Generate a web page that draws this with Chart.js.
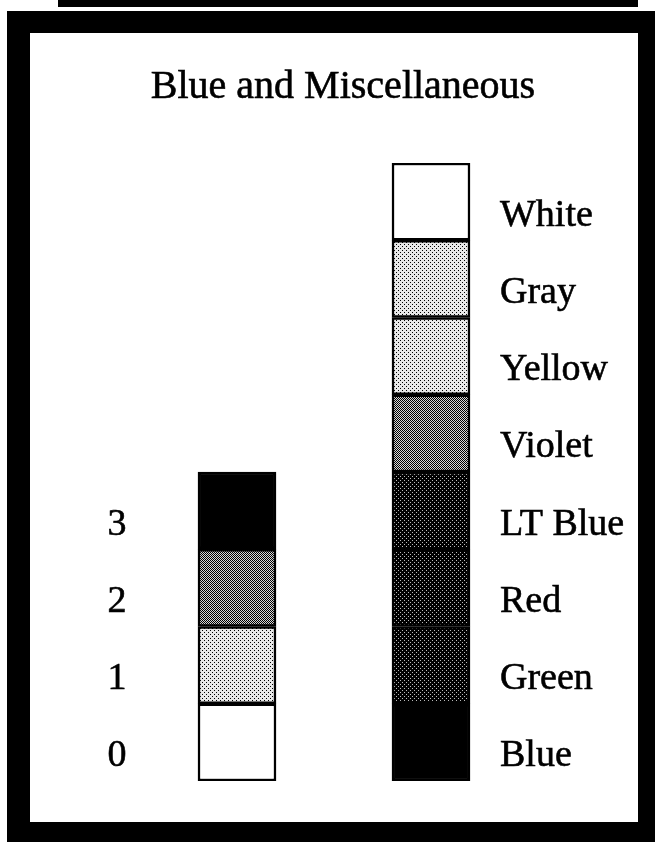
<!DOCTYPE html>
<html>
<head>
<meta charset="utf-8">
<script src="https://cdn.jsdelivr.net/npm/chart.js@4.4.0/dist/chart.umd.min.js"></script>
<style>
    html, body { margin: 0; padding: 0; background: #fff; }
    #wrap { width: 655px; height: 842px; }
</style>
</head>
<body>
<div id="wrap"><canvas id="grafico" width="655" height="842"></canvas></div>
<script>
/* -------------------- DADOS -------------------- */
const titulo = "Blue and Miscellaneous";

// coluna da esquerda (codigos), de baixo para cima
const codeLabels = ["0", "1", "2", "3"];
const codeValues = [1, 1, 1, 1];
const codeShades = ["white", "light", "medium", "black"];

// coluna da direita (cores), de baixo para cima
const colorLabels = ["Blue", "Green", "Red", "LT Blue", "Violet", "Yellow", "Gray", "White"];
const colorValues = [1, 1, 1, 1, 1, 1, 1, 1];
const colorShades = ["black", "dark", "dark", "dark", "medium", "light", "light", "white"];

const columns = ["codes", "colors"];

/* -------------------- RETICULA (halftone) -------------------- */
function halftone(kind) {
    if (kind === "white") return "#ffffff";
    if (kind === "black") return "#000000";
    const c = document.createElement("canvas");
    c.width = 4; c.height = 4;
    const g = c.getContext("2d");
    if (kind === "light") {
        g.fillStyle = "#e8e8e8"; g.fillRect(0, 0, 4, 4);
        g.fillStyle = "#000"; g.fillRect(0, 0, 1, 1); g.fillRect(2, 2, 1, 1);
    } else if (kind === "medium") {
        g.fillStyle = "#d8d8d8"; g.fillRect(0, 0, 4, 4);
        g.fillStyle = "#000";
        g.fillRect(0, 0, 1, 1); g.fillRect(2, 0, 1, 1); g.fillRect(1, 1, 1, 1); g.fillRect(3, 1, 1, 1);
        g.fillRect(0, 2, 1, 1); g.fillRect(2, 2, 1, 1); g.fillRect(1, 3, 1, 1); g.fillRect(3, 3, 1, 1);
    } else { // dark
        g.fillStyle = "#000"; g.fillRect(0, 0, 4, 4);
        g.fillStyle = "#bbb"; g.fillRect(0, 0, 1, 1); g.fillRect(2, 2, 1, 1);
    }
    return g.createPattern(c, "repeat");
}

/* -------------------- MOLDURA E TEXTOS -------------------- */
function texto(ctx, s, x, y) {
    ctx.fillText(s, x, y);
    ctx.strokeText(s, x, y); // engrossa um pouco, como no original escaneado
}

const moldura = {
    id: "moldura",
    beforeDraw(chart) {
        const ctx = chart.ctx;
        ctx.save();
        ctx.fillStyle = "#000";
        ctx.fillRect(58, 0, 580, 7);      // faixa de cima
        ctx.fillRect(7, 11, 648, 831);    // borda
        ctx.fillStyle = "#fff";
        ctx.fillRect(30, 33, 608, 789);   // area interna
        ctx.restore();
    },
    afterDraw(chart) {
        const ctx = chart.ctx;
        ctx.save();
        ctx.fillStyle = "#000";
        ctx.strokeStyle = "#000";
        ctx.lineWidth = 0.6;
        ctx.textBaseline = "alphabetic";

        ctx.font = '40px "Liberation Serif"';
        ctx.textAlign = "center";
        texto(ctx, titulo, 343, 98);

        ctx.font = '38px "Liberation Serif"';
        chart.data.datasets.forEach((ds, i) => {
            const meta = chart.getDatasetMeta(i);
            meta.data.forEach((bar, j) => {
                if (ds.data[j] == null) return;
                const yc = (bar.y + bar.base) / 2 + 24;
                if (j === 0) {
                    ctx.textAlign = "center";
                    texto(ctx, codeLabels[i], bar.x - 120, yc);
                } else {
                    ctx.textAlign = "left";
                    texto(ctx, colorLabels[i], bar.x + bar.width / 2 + 30, yc);
                }
            });
        });
        ctx.restore();
    }
};

/* -------------------- GRAFICO -------------------- */
const datasets = colorValues.map((v, i) => ({
    label: colorLabels[i],
    data: [i < codeValues.length ? codeValues[i] : null, v],
    backgroundColor: [halftone(codeShades[i] || "white"), halftone(colorShades[i])],
    borderColor: "#000",
    borderWidth: 2.5,
    borderSkipped: false,
    barThickness: 78
}));

new Chart(document.getElementById("grafico"), {
    type: "bar",
    data: { labels: columns, datasets },
    options: {
        responsive: false,
        animation: false,
        layout: { padding: { left: 140, right: 127, top: 163, bottom: 61 } },
        plugins: { legend: { display: false }, tooltip: { enabled: false }, title: { display: false } },
        scales: {
            x: { stacked: true, display: false },
            y: { stacked: true, display: false, min: 0, max: 8 }
        }
    },
    plugins: [moldura]
});
</script>
</body>
</html>
